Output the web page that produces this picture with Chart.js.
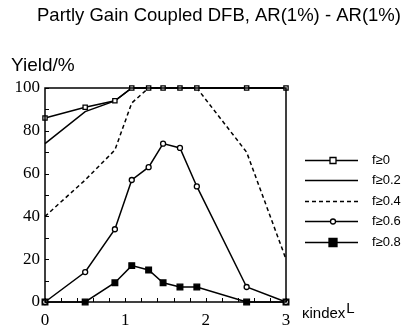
<!DOCTYPE html>
<html lang="en">
<head>
  <meta charset="UTF-8">
  <title>Partly Gain Coupled DFB yield</title>
  <script src="https://cdn.jsdelivr.net/npm/chart.js"></script>
  <style>
    html, body { margin: 0; padding: 0; background: #fff; }
    #wrap { width: 408px; height: 331px; }
  </style>
</head>
<body>
<div id="wrap"><canvas id="chart" width="408" height="331"></canvas></div>
<script>
// kappa_index * L positions and yield values (%)
const kL   = [0, 0.5, 0.87, 1.08, 1.29, 1.47, 1.68, 1.89, 2.51, 3];
const f00  = [86, 91, 94, 100, 100, 100, 100, 100, 100, 100];
const f02  = [74, 89, 94, 100, 100, 100, 100, 100, 100, 100];
const f04  = [40, 57, 71, 93, 100, 100, 100, 100, 70, 20];
const f06  = [0, 14, 34, 57, 63, 74, 72, 54, 7, 0];
const f08  = [0, 0, 9, 17, 15, 9, 7, 7, 0, 0];
const seriesLabels = ['f\u22650', 'f\u22650.2', 'f\u22650.4', 'f\u22650.6', 'f\u22650.8'];
const xTickLabels = [0, 1, 2, 3];
const yTickLabels = [0, 20, 40, 60, 80, 100];

const pts = arr => arr.map((y, i) => ({ x: kL[i], y: y }));

const styles = [
  { pointStyle: 'rect', pointRadius: 3, pointBackgroundColor: '#fff', dash: [] },
  { pointStyle: false, pointRadius: 0, pointBackgroundColor: '#000', dash: [] },
  { pointStyle: false, pointRadius: 0, pointBackgroundColor: '#000', dash: [4, 3] },
  { pointStyle: 'circle', pointRadius: 2.5, pointBackgroundColor: '#fff', dash: [] },
  { pointStyle: 'rect', pointRadius: 4, pointBackgroundColor: '#000', dash: [] }
];

const datasets = [f00, f02, f04, f06, f08].map((d, i) => ({
  label: seriesLabels[i],
  data: pts(d),
  borderColor: '#000',
  borderWidth: 1.5,
  borderDash: styles[i].dash,
  pointStyle: styles[i].pointStyle,
  pointRadius: styles[i].pointRadius,
  pointBackgroundColor: styles[i].pointBackgroundColor,
  pointBorderColor: '#000',
  pointBorderWidth: 1.3,
  tension: 0,
  fill: false,
  clip: false
}));

function drawMarker(ctx, st, x, y) {
  if (!st.pointStyle) return;
  ctx.save();
  ctx.setLineDash([]);
  ctx.fillStyle = st.pointBackgroundColor;
  ctx.strokeStyle = '#000';
  ctx.lineWidth = 1.3;
  ctx.beginPath();
  if (st.pointStyle === 'rect') {
    const r = st.pointRadius;
    ctx.rect(x - r, y - r, 2 * r, 2 * r);
  } else {
    ctx.arc(x, y, st.pointRadius, 0, Math.PI * 2);
  }
  ctx.fill();
  ctx.stroke();
  ctx.restore();
}

const decor = {
  id: 'decor',
  afterDraw(chart) {
    const ctx = chart.ctx;
    const a = chart.chartArea;
    const xs = chart.scales.x, ys = chart.scales.y;
    ctx.save();
    // frame
    ctx.strokeStyle = '#000';
    ctx.lineWidth = 1.5;
    ctx.strokeRect(a.left, a.top, a.right - a.left, a.bottom - a.top);
    // inward ticks
    ctx.lineWidth = 1;
    for (let i = 0; i <= 15; i++) {
      const px = Math.round(xs.getPixelForValue(i * 0.2)) + 0.5;
      ctx.beginPath(); ctx.moveTo(px, a.bottom); ctx.lineTo(px, a.bottom - 4); ctx.stroke();
    }
    for (let i = 0; i <= 10; i++) {
      const py = Math.round(ys.getPixelForValue(i * 10)) + 0.5;
      ctx.beginPath(); ctx.moveTo(a.left, py); ctx.lineTo(a.left + 4, py); ctx.stroke();
    }
    // title and axis captions
    ctx.fillStyle = '#000';
    ctx.font = '18.5px "Liberation Sans", Arial, sans-serif';
    ctx.textAlign = 'center';
    ctx.textBaseline = 'alphabetic';
    ctx.fillText('Partly Gain Coupled DFB, AR(1%) - AR(1%)', 219, 21);
    ctx.textAlign = 'left';
    ctx.font = '19px "Liberation Sans", Arial, sans-serif';
    ctx.fillText('Yield/%', 11, 71);
    ctx.font = '15px "Liberation Sans", Arial, sans-serif';
    ctx.fillText('\u03BAindex', 302, 318);
    const w = ctx.measureText('\u03BAindex').width;
    ctx.fillText('L', 302 + w + 1, 313);
    // legend
    ctx.font = '13px "Liberation Sans", Arial, sans-serif';
    ctx.textBaseline = 'middle';
    seriesLabels.forEach((lab, i) => {
      const y = Math.round(159.5 + i * 20.5) + 0.5;
      ctx.lineWidth = 1.5;
      ctx.setLineDash(styles[i].dash);
      ctx.beginPath(); ctx.moveTo(305, y); ctx.lineTo(358, y); ctx.stroke();
      ctx.setLineDash([]);
      drawMarker(ctx, styles[i], 333, y);
      ctx.fillStyle = '#000';
      ctx.fillText(lab, 372, y);
    });
    ctx.restore();
  }
};

new Chart(document.getElementById('chart'), {
  type: 'line',
  data: { datasets: datasets },
  plugins: [decor],
  options: {
    responsive: false,
    animation: false,
    layout: { padding: { left: 0, right: 122, top: 88, bottom: 0 } },
    plugins: { legend: { display: false }, title: { display: false }, tooltip: { enabled: false } },
    scales: {
      x: {
        type: 'linear', min: 0, max: 3,
        afterFit: s => { s.height = 29; },
        afterBuildTicks: s => { s.ticks = xTickLabels.map(v => ({ value: v })); },
        grid: { display: false, drawTicks: false, tickLength: 0 },
        border: { display: false },
        ticks: { padding: 8, color: '#000', font: { family: '"Liberation Serif", "Times New Roman", serif', size: 17 } }
      },
      y: {
        min: 0, max: 100,
        afterFit: s => { s.width = 45; },
        afterBuildTicks: s => { s.ticks = yTickLabels.map(v => ({ value: v })); },
        grid: { display: false, drawTicks: false, tickLength: 0 },
        border: { display: false },
        ticks: { padding: 5, color: '#000', font: { family: '"Liberation Serif", "Times New Roman", serif', size: 17 } }
      }
    }
  }
});
</script>
</body>
</html>
